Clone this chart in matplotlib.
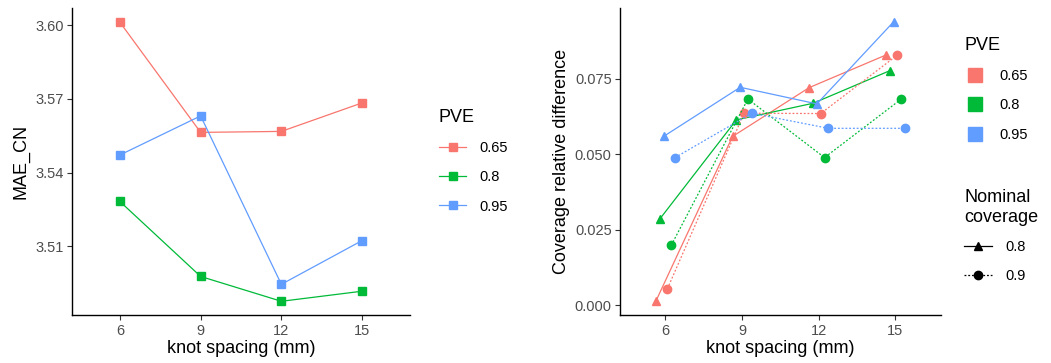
import numpy as np
import matplotlib.pyplot as plt
from matplotlib.lines import Line2D

plt.rcParams['font.family'] = ['Liberation Sans', 'DejaVu Sans']

knots = [6, 9, 12, 15]
pve = ['0.65', '0.8', '0.95']
colors = ['#F8766D', '#00BA38', '#619CFF']

# MAE_CN by PVE
mae = {
    '0.65': [3.6012, 3.5564, 3.5568, 3.5684],
    '0.8': [3.5283, 3.4978, 3.4877, 3.4918],
    '0.95': [3.5472, 3.5631, 3.4946, 3.5124],
}

# coverage relative difference, nominal coverage 0.8 and 0.9
cov = ['0.8', '0.9']
covdiff = {
    ('0.8', '0.65'): [0.0013, 0.0559, 0.0721, 0.0829],
    ('0.8', '0.8'): [0.0285, 0.0614, 0.0669, 0.0777],
    ('0.8', '0.95'): [0.0559, 0.0722, 0.0667, 0.0939],
    ('0.9', '0.65'): [0.0054, 0.0636, 0.0635, 0.0829],
    ('0.9', '0.8'): [0.0198, 0.0683, 0.0489, 0.0683],
    ('0.9', '0.95'): [0.0489, 0.0636, 0.0586, 0.0586],
}

fig = plt.figure(figsize=(10.51, 3.63), dpi=100)
ax1 = fig.add_axes([0.0685, 0.1314, 0.3216, 0.8466])
ax2 = fig.add_axes([0.5899, 0.1314, 0.3054, 0.8466])

def style(ax):
    for s in ['top', 'right']:
        ax.spines[s].set_visible(False)
    for s in ['left', 'bottom']:
        ax.spines[s].set_linewidth(1.0)
    ax.tick_params(length=3.5, width=0.8, color='#333333', labelcolor='#4D4D4D',
                   labelsize=10.5, pad=2.5)
    ax.set_xticks(knots)
    ax.set_xlim(4.22, 16.78)
    ax.set_xlabel('knot spacing (mm)', fontsize=13, labelpad=1.5)

# left panel
for p, c in zip(pve, colors):
    ax1.plot(knots, mae[p], color=c, lw=0.9, marker='s', ms=5.5, label=p)
style(ax1)
ax1.set_ylim(3.482, 3.607)
ax1.set_yticks([3.51, 3.54, 3.57, 3.60])
ax1.set_yticklabels(['3.51', '3.54', '3.57', '3.60'])
ax1.set_ylabel('MAE_CN', fontsize=13, labelpad=4)
leg1 = ax1.legend(loc='upper left', bbox_to_anchor=(0.405, 0.737), bbox_transform=fig.transFigure,
                  frameon=False, title='PVE', fontsize=10.5, title_fontsize=13,
                  handlelength=1.9, labelspacing=1.05, handletextpad=0.9)
leg1._legend_box.align = 'left'

# right panel
width = 0.15
i = 0
for cv, ls, mk in zip(cov, ['-', (0, (1.5, 1.5))], ['^', 'o']):
    for p, c in zip(pve, colors):
        off = (i - 2.5) * width
        x = np.array(knots) + off
        ax2.plot(x, covdiff[(cv, p)], color=c, lw=0.9, ls=ls, marker=mk, ms=6)
        i += 1
style(ax2)
ax2.set_ylim(-0.0034, 0.0985)
ax2.set_yticks([0.0, 0.025, 0.05, 0.075])
ax2.set_yticklabels(['0.000', '0.025', '0.050', '0.075'])
ax2.set_ylabel('Coverage relative difference', fontsize=13, labelpad=3)

h_pve = [Line2D([], [], ls='none', marker='s', ms=10, color=c) for c in colors]
leg2 = ax2.legend(h_pve, pve, loc='upper left', bbox_to_anchor=(0.905, 0.935),
                  bbox_transform=fig.transFigure, frameon=False, title='PVE',
                  fontsize=10.5, title_fontsize=13, handlelength=1.5,
                  labelspacing=1.05, handletextpad=0.9)
leg2._legend_box.align = 'left'
ax2.add_artist(leg2)

h_cov = [Line2D([], [], color='black', lw=0.9, ls='-', marker='^', ms=6),
         Line2D([], [], color='black', lw=0.9, ls=(0, (1.5, 1.5)), marker='o', ms=6)]
leg3 = ax2.legend(h_cov, cov, loc='upper left', bbox_to_anchor=(0.905, 0.515),
                  bbox_transform=fig.transFigure, frameon=False, title='Nominal\ncoverage',
                  fontsize=10.5, title_fontsize=13, handlelength=1.9,
                  labelspacing=1.0, handletextpad=0.9)
leg3._legend_box.align = 'left'

fig.savefig('out.png', dpi=100)
